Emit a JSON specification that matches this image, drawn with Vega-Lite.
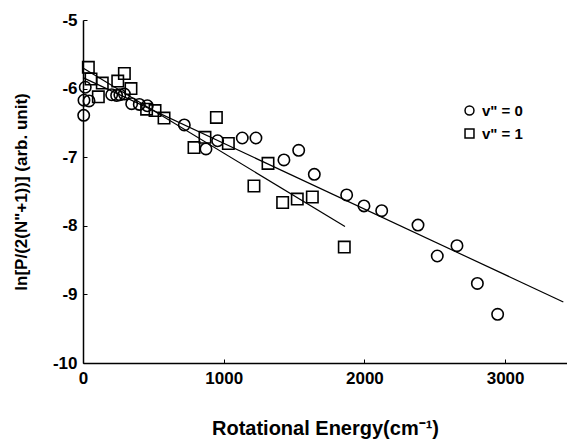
{
  "$schema": "https://vega.github.io/schema/vega-lite/v6.json",
  "width": 484,
  "height": 343,
  "autosize": {"type": "none"},
  "padding": {"left": 83, "top": 20, "right": 0, "bottom": 76},
  "background": "white",
  "config": {
    "view": {"stroke": null},
    "font": "Liberation Sans"
  },
  "datasets": {
    "pts": [
      {"E": 5, "y": -6.39, "v": "v\" = 0"},
      {"E": 16, "y": -5.98, "v": "v\" = 0"},
      {"E": 7, "y": -6.17, "v": "v\" = 0"},
      {"E": 43, "y": -6.18, "v": "v\" = 0"},
      {"E": 204, "y": -6.09, "v": "v\" = 0"},
      {"E": 239, "y": -6.10, "v": "v\" = 0"},
      {"E": 262, "y": -6.09, "v": "v\" = 0"},
      {"E": 294, "y": -6.08, "v": "v\" = 0"},
      {"E": 346, "y": -6.22, "v": "v\" = 0"},
      {"E": 400, "y": -6.23, "v": "v\" = 0"},
      {"E": 457, "y": -6.25, "v": "v\" = 0"},
      {"E": 720, "y": -6.53, "v": "v\" = 0"},
      {"E": 874, "y": -6.88, "v": "v\" = 0"},
      {"E": 957, "y": -6.76, "v": "v\" = 0"},
      {"E": 1132, "y": -6.72, "v": "v\" = 0"},
      {"E": 1229, "y": -6.72, "v": "v\" = 0"},
      {"E": 1428, "y": -7.04, "v": "v\" = 0"},
      {"E": 1533, "y": -6.90, "v": "v\" = 0"},
      {"E": 1644, "y": -7.25, "v": "v\" = 0"},
      {"E": 1874, "y": -7.55, "v": "v\" = 0"},
      {"E": 1997, "y": -7.71, "v": "v\" = 0"},
      {"E": 2123, "y": -7.78, "v": "v\" = 0"},
      {"E": 2381, "y": -7.99, "v": "v\" = 0"},
      {"E": 2518, "y": -8.44, "v": "v\" = 0"},
      {"E": 2658, "y": -8.29, "v": "v\" = 0"},
      {"E": 2803, "y": -8.84, "v": "v\" = 0"},
      {"E": 2947, "y": -9.29, "v": "v\" = 0"},
      {"E": 38, "y": -5.69, "v": "v\" = 1"},
      {"E": 57, "y": -5.86, "v": "v\" = 1"},
      {"E": 109, "y": -6.12, "v": "v\" = 1"},
      {"E": 137, "y": -5.92, "v": "v\" = 1"},
      {"E": 247, "y": -5.89, "v": "v\" = 1"},
      {"E": 294, "y": -5.78, "v": "v\" = 1"},
      {"E": 341, "y": -6.00, "v": "v\" = 1"},
      {"E": 452, "y": -6.30, "v": "v\" = 1"},
      {"E": 512, "y": -6.32, "v": "v\" = 1"},
      {"E": 576, "y": -6.43, "v": "v\" = 1"},
      {"E": 789, "y": -6.86, "v": "v\" = 1"},
      {"E": 867, "y": -6.71, "v": "v\" = 1"},
      {"E": 948, "y": -6.42, "v": "v\" = 1"},
      {"E": 1033, "y": -6.80, "v": "v\" = 1"},
      {"E": 1215, "y": -7.42, "v": "v\" = 1"},
      {"E": 1315, "y": -7.09, "v": "v\" = 1"},
      {"E": 1419, "y": -7.66, "v": "v\" = 1"},
      {"E": 1523, "y": -7.61, "v": "v\" = 1"},
      {"E": 1630, "y": -7.58, "v": "v\" = 1"},
      {"E": 1857, "y": -8.31, "v": "v\" = 1"}
    ],
    "fits": [
      {"E": 0, "y": -5.84, "v": "v\" = 0"},
      {"E": 3414, "y": -9.11, "v": "v\" = 0"},
      {"E": 0, "y": -5.70, "v": "v\" = 1"},
      {"E": 1862, "y": -8.01, "v": "v\" = 1"}
    ]
  },
  "layer": [
    {
      "data": {"name": "fits"},
      "mark": {"type": "line", "color": "black", "strokeWidth": 1.2},
      "encoding": {
        "x": {"field": "E", "type": "quantitative", "scale": {"domain": [0, 3440], "nice": false}},
        "y": {"field": "y", "type": "quantitative", "scale": {"domain": [-10, -5], "nice": false}},
        "detail": {"field": "v"}
      }
    },
    {
      "data": {"name": "pts"},
      "mark": {"type": "point", "filled": false, "color": "black", "strokeWidth": 1.6, "opacity": 1, "size": 130},
      "encoding": {
        "x": {
          "field": "E", "type": "quantitative",
          "scale": {"domain": [0, 3440], "nice": false},
          "axis": {
            "title": "Rotational Energy(cm⁻¹)",
            "values": [0, 1000, 2000, 3000],
            "labelExpr": "'' + datum.value",
            "grid": false,
            "domainColor": "black", "domainWidth": 1.5,
            "tickColor": "black", "tickSize": -4, "tickWidth": 1,
            "labelFont": "Liberation Sans", "labelFontSize": 17, "labelFontWeight": "bold", "labelColor": "black",
            "labelPadding": 11,
            "labelFlush": false,
            "titleFont": "Liberation Sans", "titleFontSize": 20, "titleFontWeight": "bold", "titleColor": "black",
            "titlePadding": 32
          }
        },
        "y": {
          "field": "y", "type": "quantitative",
          "scale": {"domain": [-10, -5], "nice": false},
          "axis": {
            "title": "ln[P/(2(N\"+1))] (arb. unit)",
            "values": [-10, -9, -8, -7, -6, -5],
            "labelExpr": "'' + datum.value",
            "grid": false,
            "domainColor": "black", "domainWidth": 1.5,
            "tickColor": "black", "tickSize": -4, "tickWidth": 1,
            "labelFont": "Liberation Sans", "labelFontSize": 17, "labelFontWeight": "bold", "labelColor": "black",
            "labelPadding": 10,
            "labelFlush": false,
            "titleFont": "Liberation Sans", "titleFontSize": 17, "titleFontWeight": "bold", "titleColor": "black",
            "titleX": -53
          }
        },
        "shape": {
          "field": "v", "type": "nominal",
          "scale": {"domain": ["v\" = 0", "v\" = 1"], "range": ["circle", "square"]},
          "legend": {
            "title": null,
            "orient": "none",
            "legendX": 379,
            "legendY": 83,
            "symbolSize": 80,
            "symbolStrokeWidth": 1.5,
            "symbolStrokeColor": "black",
            "symbolFillColor": "white",
            "labelFont": "Liberation Sans", "labelFontSize": 15, "labelFontWeight": "bold", "labelColor": "black",
            "labelOffset": 5,
            "rowPadding": 7
          }
        }
      }
    }
  ]
}
